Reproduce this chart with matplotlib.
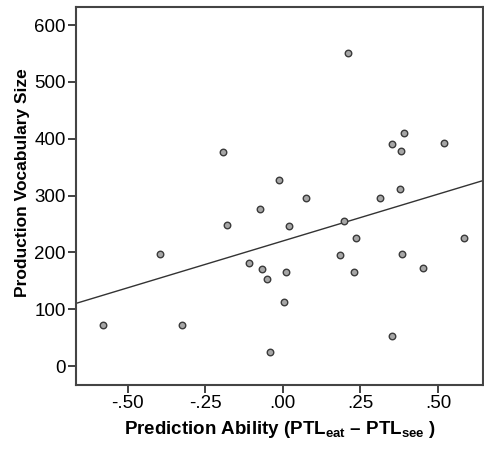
import numpy as np
import matplotlib
matplotlib.use("Agg")
import matplotlib.pyplot as plt
from matplotlib.ticker import FuncFormatter

# prediction ability (PTL eat - PTL see) vs production vocabulary size
pred_ability = [-0.581, -0.395, -0.325, -0.180, -0.193, -0.109,
                0.209, 0.389, 0.351, 0.382, 0.519, -0.013,
                0.076, 0.314, 0.378, -0.073, 0.021, 0.197,
                0.235, 0.584, 0.185, 0.385, 0.451, -0.068,
                -0.052, 0.010, 0.230, 0.004, 0.353, -0.043]
vocab_size = [73, 198, 72, 249, 376, 181,
              550, 410, 390, 378, 392, 327,
              296, 296, 311, 277, 246, 256,
              225, 225, 195, 197, 172, 170,
              154, 165, 165, 113, 53, 24]
x_ticks = [-0.50, -0.25, 0.00, 0.25, 0.50]
y_ticks = [0, 100, 200, 300, 400, 500, 600]

FONT = ["Liberation Sans Narrow", "Liberation Sans", "DejaVu Sans"]
plt.rcParams["font.family"] = FONT
plt.rcParams["mathtext.fontset"] = "custom"
plt.rcParams["mathtext.rm"] = "Liberation Sans:bold"
plt.rcParams["mathtext.bf"] = "Liberation Sans:bold"

fig = plt.figure(figsize=(4.85, 4.57), dpi=100)
ax = fig.add_axes([0.157, 0.158, 0.839, 0.827])

x = np.array(pred_ability)
y = np.array(vocab_size)
ax.scatter(x, y, s=22, facecolor="#a6a6a6", edgecolor="#3a3a3a",
           linewidth=1.0, zorder=3)

# linear fit line across the full x range
slope, icpt = np.polyfit(x, y, 1)
xl = np.array([-0.666, 0.645])
ax.plot(xl, icpt + slope * xl, color="#333333", linewidth=1.0, zorder=2)

ax.set_xlim(-0.666, 0.645)
ax.set_ylim(-33, 632)
ax.set_xticks(x_ticks)
ax.set_yticks(y_ticks)
ax.xaxis.set_major_formatter(FuncFormatter(
    lambda v, p: ("-" if v < 0 else "") + f"{abs(v):.2f}"[1:]))
ax.tick_params(direction="out", length=6, width=1.3, color="#333333",
               labelsize=13.5, pad=1.5)

for s in ax.spines.values():
    s.set_linewidth(1.5)
    s.set_color("#444444")

ax.set_ylabel("Production Vocabulary Size", fontsize=12.5, fontweight="bold")
ax.yaxis.set_label_coords(-0.113, 0.535)
ax.set_xlabel(r"Prediction Ability (PTL$_{\rm eat}$ – PTL$_{\rm see}$ )",
              fontsize=13.5, fontweight="bold", labelpad=5)

fig.savefig("out.png", dpi=100)
